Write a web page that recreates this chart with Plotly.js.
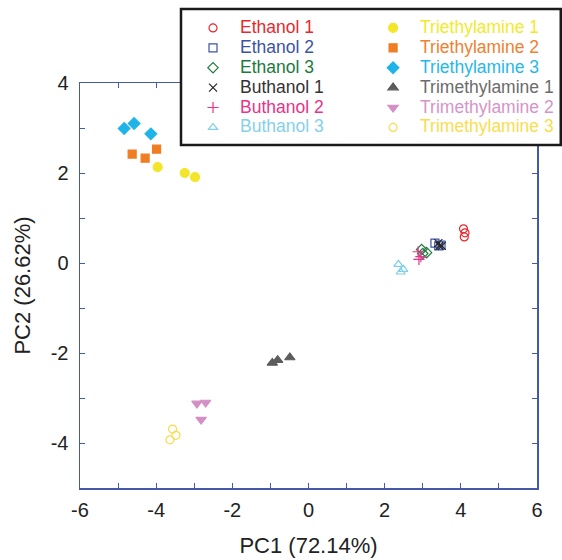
<!DOCTYPE html>
<html><head><meta charset="utf-8">
<script src="https://cdn.plot.ly/plotly-3.0.1.min.js"></script>
<style>body{margin:0;background:#fff}#c{width:562px;height:560px}</style>
</head><body><div id="c"></div>
<script>
// Series names
const names = ["Ethanol 1","Ethanol 2","Ethanol 3","Buthanol 1","Buthanol 2","Buthanol 3",
  "Triethylamine 1","Triethylamine 2","Triethylamine 3","Trimethylamine 1","Trimethylamine 2","Trimethylamine 3"];
// PC1 values per series
const pc1 = [
  [4.07, 4.11, 4.09],
  [3.32, 3.48, 3.42],
  [2.97, 3.10, 3.00],
  [3.41, 3.50, 3.44],
  [2.88, 2.95, 2.90],
  [2.36, 2.49, 2.42],
  [-3.96, -3.25, -2.98],
  [-4.63, -4.29, -3.99],
  [-4.84, -4.58, -4.14],
  [-0.95, -0.81, -0.49],
  [-2.93, -2.70, -2.82],
  [-3.57, -3.48, -3.64]
];
// PC2 values per series
const pc2 = [
  [0.76, 0.67, 0.58],
  [0.44, 0.40, 0.38],
  [0.30, 0.23, 0.21],
  [0.44, 0.38, 0.38],
  [0.25, 0.14, 0.08],
  [-0.03, -0.14, -0.20],
  [2.13, 2.00, 1.91],
  [2.42, 2.33, 2.53],
  [2.99, 3.10, 2.87],
  [-2.22, -2.16, -2.10],
  [-3.12, -3.10, -3.48],
  [-3.69, -3.83, -3.93]
];
const xTickVals = [-6,-5,-4,-3,-2,-1,0,1,2,3,4,5,6];
const xTickText = ["-6","","-4","","-2","","0","","2","","4","","6"];
const yTickVals = [-5,-4,-3,-2,-1,0,1,2,3,4];
const yTickText = ["","-4","","-2","","0","","2","","4"];

const symbols = ["circle-open","square-open","diamond-open","x-thin-open","cross-thin-open","triangle-up-open",
  "circle","square","diamond","triangle-up","triangle-down","circle-open"];
const mcolors = ["#e8282b","#3b53a4","#1c7a3d","#222222","#e8338a","#7fcfe6",
  "#f3e62a","#f07d22","#1eb4ea","#5c5c5c","#d48fc4","#f7dc4a"];
const tcolors = ["#e8282b","#3b53a4","#1c7a3d","#333333","#e8338a","#86d0ea",
  "#f2ea2a","#f08030","#27b7ea","#6b6b6b","#d595c8","#f9dd50"];
const sizes = [8,8,8,8,8,8,9,8,9,9,9,8];

const traces = names.map((n,i)=>({
  type:"scatter", mode:"markers", x:pc1[i], y:pc2[i],
  name:'<span style="color:'+tcolors[i]+';font-size:17.5px">'+n+'</span>',
  legend: i<6 ? "legend" : "legend2",
  marker:{symbol:symbols[i], size:sizes[i], color:mcolors[i], line:{width:1.2, color:mcolors[i]}},
  cliponaxis:false
}));

const axc = "#4658a8";
const tfont = {family:"Liberation Sans, Arial, sans-serif", size:20, color:"#222"};
const afont = {family:"Liberation Sans, Arial, sans-serif", size:22, color:"#222"};
const legFont = {family:"Liberation Sans, Arial, sans-serif", size:13, color:"#222"};
const layout = {
  width:562, height:560,
  margin:{l:80, r:25, t:83, b:72, autoexpand:false},
  paper_bgcolor:"#fff", plot_bgcolor:"#fff",
  showlegend:true,
  font:tfont,
  xaxis:{range:[-6,6], tickmode:"array", tickvals:xTickVals, ticktext:xTickText, automargin:false,
    ticks:"inside", ticklen:5, tickcolor:axc, tickwidth:1, showline:true, linecolor:axc, linewidth:1.5,
    mirror:"ticks", showgrid:false, zeroline:false, tickfont:tfont, ticklabelstandoff:3,
    title:{text:"PC1 (72.14%)", font:afont, standoff:18}},
  yaxis:{range:[-5,4], tickmode:"array", tickvals:yTickVals, ticktext:yTickText, automargin:false,
    ticks:"inside", ticklen:5, tickcolor:axc, tickwidth:1, showline:true, linecolor:axc, linewidth:1.5,
    mirror:"ticks", showgrid:false, zeroline:false, tickfont:tfont, ticklabelstandoff:6,
    title:{text:"PC2 (26.62%)", font:afont, standoff:14}},
  legend:{x:0.232, xanchor:"left", y:1.173, yanchor:"top", bgcolor:"rgba(0,0,0,0)", font:legFont,
    itemwidth:44, tracegroupgap:0},
  legend2:{x:0.626, xanchor:"left", y:1.173, yanchor:"top", bgcolor:"rgba(0,0,0,0)", font:legFont,
    itemwidth:44, tracegroupgap:0},
  shapes:[{type:"rect", xref:"paper", yref:"paper", x0:0.221, x1:1.052, y0:0.847, y1:1.183,
    line:{color:"#1a1a1a", width:2.5}, fillcolor:"#fff", layer:"above"}]
};
Plotly.newPlot("c", traces, layout, {displayModeBar:false, staticPlot:true});
</script></body></html>
